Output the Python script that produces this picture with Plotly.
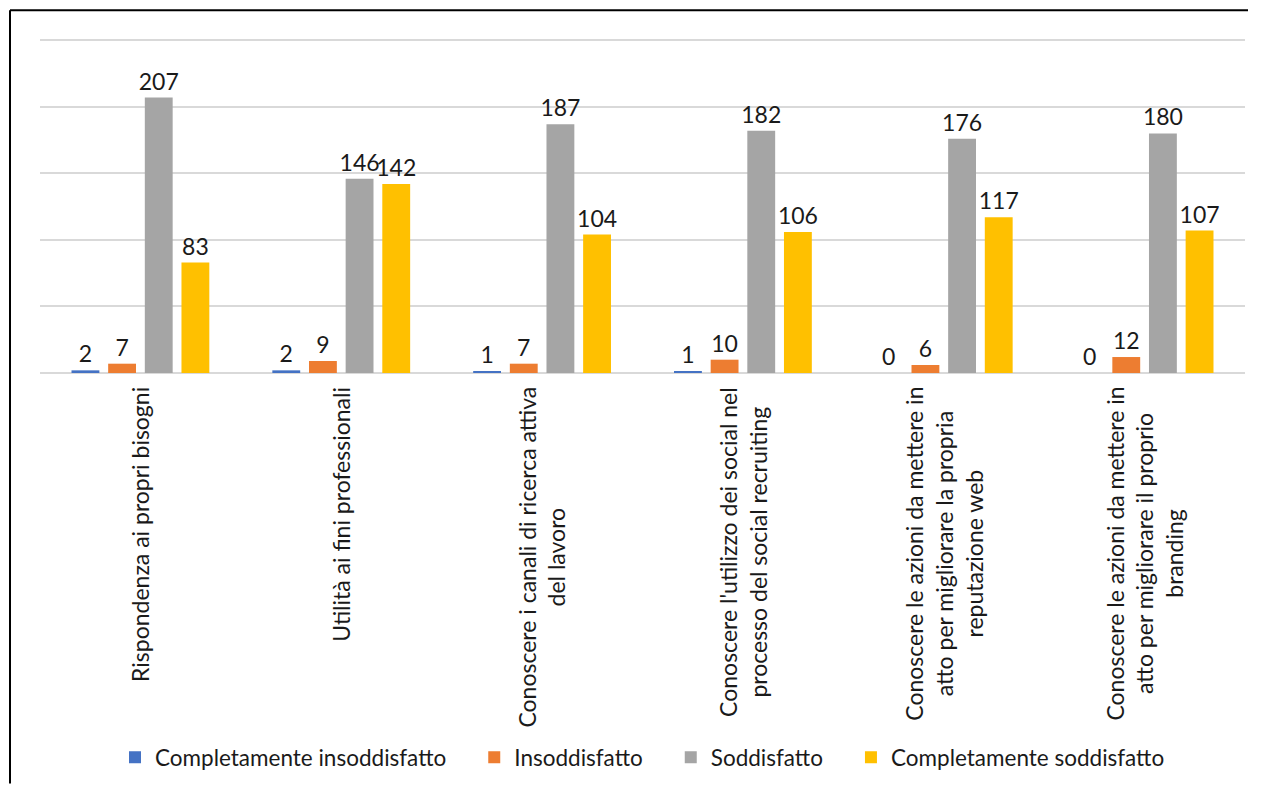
import plotly.graph_objects as go

categories = [
    "Rispondenza ai propri bisogni",
    "Utilità ai fini professionali",
    "Conoscere i canali di ricerca attiva<br>del lavoro",
    "Conoscere l'utilizzo dei social nel<br>processo del social recruiting",
    "Conoscere le azioni da mettere in<br>atto per migliorare la propria<br>reputazione web",
    "Conoscere le azioni da mettere in<br>atto per migliorare il proprio<br>branding",
]
series_names = ["Completamente insoddisfatto", "Insoddisfatto", "Soddisfatto", "Completamente soddisfatto"]
completamente_insoddisfatto = [2, 2, 1, 1, 0, 0]
insoddisfatto = [7, 9, 7, 10, 6, 12]
soddisfatto = [207, 146, 187, 182, 176, 180]
completamente_soddisfatto = [83, 142, 104, 106, 117, 107]
colors = ["#4472C4", "#ED7D31", "#A5A5A5", "#FFC000"]

FONT = "Lato, 'Open Sans', sans-serif"
FS = 23
# page is offset by the 8px body margin; keep page within the window
W, H = 1240, 776
ML, MR, MB = 32, 3, 411
MT = 30.67
pw, ph = W - ML - MR, H - MT - MB

PAD = "\u00a0" * 4  # extra spacing between legend entries

keys = list(range(len(categories)))
fig = go.Figure()
for i, (name, vals, c) in enumerate(zip(series_names,
                         [completamente_insoddisfatto, insoddisfatto, soddisfatto, completamente_soddisfatto],
                         colors)):
    fig.add_trace(go.Bar(
        x=keys, y=vals, name=name + (PAD if i < len(series_names) - 1 else ""),
        marker=dict(color=c, line=dict(width=0)),
        text=[str(v) for v in vals], textposition="outside", cliponaxis=False,
        textfont=dict(family=FONT, size=FS, color="#1a1a1a"),
    ))

for k, lab in zip(keys, categories):
    fig.add_annotation(
        x=k, xref="x", y=(-12) / ph, yref="paper", text=lab, textangle=-90,
        showarrow=False, xanchor="center", yanchor="top", align="center",
        font=dict(family=FONT, size=FS, color="#1a1a1a"),
    )

# outer frame: left and top edges (corner at page 10,10), kept inside the figure
fx0 = (2 - ML) / pw
fy1 = (MT + ph - 2) / ph
fig.add_shape(type="line", xref="paper", yref="paper", x0=fx0, x1=fx0, y0=fy1, y1=-(H - MT - ph) / ph,
              line=dict(color="#000000", width=2), layer="below")
fig.add_shape(type="line", xref="paper", yref="paper", x0=fx0, x1=(W - ML) / pw, y0=fy1, y1=fy1,
              line=dict(color="#000000", width=2), layer="below")

fig.update_layout(
    width=W, height=H,
    margin=dict(l=ML, r=MR, t=MT, b=MB, pad=0),
    paper_bgcolor="white", plot_bgcolor="white",
    barmode="group", bargap=0.27, bargroupgap=0.24,
    showlegend=True,
    uniformtext=dict(minsize=FS, mode="show"),
    legend=dict(orientation="h", x=(1205 / 2) / pw, xanchor="center", y=-(750 - MT - ph) / ph,
                yanchor="middle",
                font=dict(family=FONT, size=22.5, color="#1a1a1a"), traceorder="normal",
                itemwidth=30),
    font=dict(family=FONT),
)
fig.update_xaxes(range=[-0.5, len(categories) - 0.5], showticklabels=False, showgrid=False,
                 zeroline=False, showline=False, ticks="")
fig.update_yaxes(range=[0, 251], tickvals=[0, 50, 100, 150, 200, 250], showticklabels=False,
                 showgrid=True, gridcolor="#D9D9D9",
                 gridwidth=1.5, zeroline=True, zerolinecolor="#D9D9D9", zerolinewidth=1.5, ticks="")

fig.write_html("out.html", config={"displayModeBar": False})
